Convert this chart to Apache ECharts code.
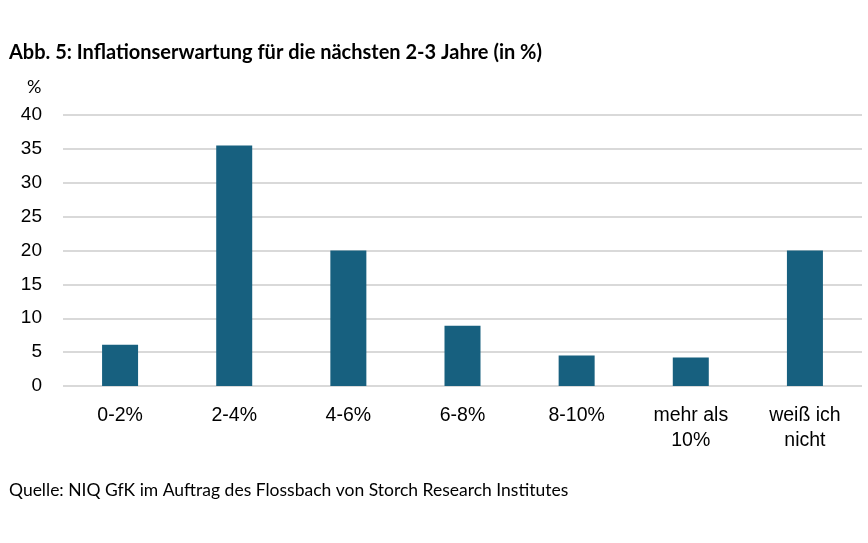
<!DOCTYPE html>
<html><head><meta charset="utf-8">
<script src="https://cdn.jsdelivr.net/npm/echarts@6/dist/echarts.min.js"></script>
<style>html,body{margin:0;padding:0;background:#fff}#c{width:868px;height:543px}</style>
</head><body><div id="c"></div>
<script>
const categories = ['0-2%', '2-4%', '4-6%', '6-8%', '8-10%', 'mehr als\n10%', 'weiß ich\nnicht'];
const values = [6.1, 35.5, 20, 8.9, 4.5, 4.2, 20];
const yTicks = [0, 5, 10, 15, 20, 25, 30, 35, 40];

const chart = echarts.init(document.getElementById('c'));
chart.setOption({
  animation: false,
  backgroundColor: '#fff',
  title: [
    { text: 'Abb. 5: Inflationserwartung für die nächsten 2-3 Jahre (in %)', left: 4, top: 38,
      textStyle: { fontFamily: 'Lato', fontWeight: 'bold', fontSize: 20, color: '#000' } },
    { text: '%', left: 22, top: 73,
      textStyle: { fontFamily: 'Lato', fontWeight: 'normal', fontSize: 18, color: '#000' } },
    { text: 'Quelle: NIQ GfK im Auftrag des Flossbach von Storch Research Institutes', left: 4, top: 476,
      textStyle: { fontFamily: 'Lato', fontWeight: 'normal', fontSize: 17.5, color: '#000' } }
  ],
  grid: { left: 63, right: 6, top: 115, bottom: 157, containLabel: false },
  xAxis: {
    type: 'category', data: categories,
    axisLine: { show: false }, axisTick: { show: false },
    axisLabel: { fontFamily: 'Liberation Sans', fontSize: 19.5, color: '#000', margin: 17, lineHeight: 25 }
  },
  yAxis: {
    type: 'value', min: 0, max: 40, interval: 5,
    axisLine: { show: false }, axisTick: { show: false },
    axisLabel: { fontFamily: 'Liberation Sans', fontSize: 19, color: '#000', margin: 21,
      customValues: yTicks },
    splitLine: { lineStyle: { color: '#d9d9d9', width: 2 } }
  },
  series: [{
    type: 'bar', data: values, barWidth: 36,
    itemStyle: { color: '#17607F' }
  }]
});
</script></body></html>
